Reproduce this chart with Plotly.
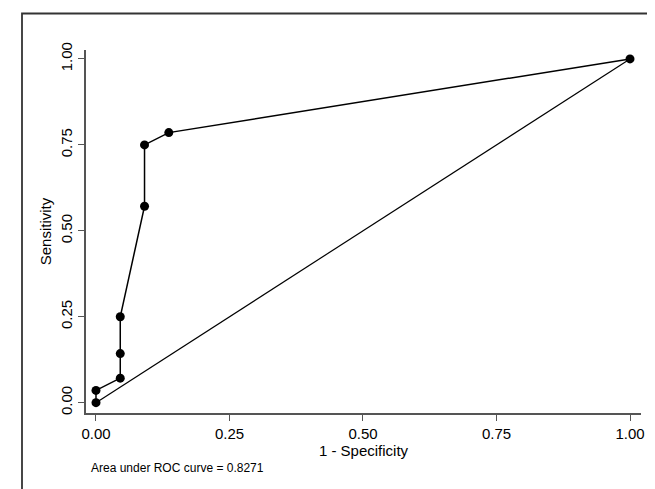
import plotly.graph_objects as go

# ROC curve data (1 - specificity, sensitivity)
fpr = [0.0, 0.0, 1/22, 1/22, 1/22, 2/22, 2/22, 3/22, 1.0]
tpr = [0.0, 1/28, 2/28, 4/28, 7/28, 16/28, 21/28, 22/28, 1.0]
ref_x = [0.0, 1.0]
ref_y = [0.0, 1.0]
tick_vals = [0.0, 0.25, 0.5, 0.75, 1.0]
tick_text = ["0.00", "0.25", "0.50", "0.75", "1.00"]
auc_label = "Area under ROC curve = 0.8271"

W, H = 655, 489
L, R, T, B = 78, 22, 42, 84
pw, ph = W - L - R, H - T - B

def px_x(p):
    return (p - L) / pw

def px_y(p):
    return (H - B - p) / ph

fig = go.Figure()
fig.add_trace(go.Scatter(x=ref_x, y=ref_y, mode="lines",
                         line=dict(color="black", width=1.2),
                         showlegend=False, hoverinfo="skip"))
fig.add_trace(go.Scatter(x=fpr, y=tpr, mode="lines+markers",
                         line=dict(color="black", width=1.5),
                         marker=dict(color="black", size=9),
                         showlegend=False))

font = "Liberation Sans, Arial, sans-serif"
axis_common = dict(
    showgrid=False, zeroline=False, showline=True,
    linecolor="#555555", linewidth=1.5,
    ticks="outside", ticklen=6, tickcolor="#555555", tickwidth=1.2,
    tickvals=tick_vals, ticktext=tick_text,
    tickfont=dict(family=font, size=15, color="black"),
    mirror=False,
)
fig.update_xaxes(range=[-0.0187, 1.0206],
                 title=dict(text="1 - Specificity", font=dict(family=font, size=15, color="black"), standoff=3),
                 **axis_common)
fig.update_yaxes(range=[-0.030, 1.026], tickangle=-90,
                 title=dict(text="Sensitivity", font=dict(family=font, size=15, color="black"), standoff=3),
                 **axis_common)

fig.add_annotation(text=auc_label, xref="paper", yref="paper",
                   x=px_x(81), y=px_y(460), xanchor="left", yanchor="middle",
                   showarrow=False, font=dict(family=font, size=12, color="black"))

fig.add_shape(type="rect", xref="paper", yref="paper",
              x0=px_x(14), x1=px_x(700), y0=px_y(540), y1=px_y(5.5),
              line=dict(color="#333333", width=1.8), fillcolor="rgba(0,0,0,0)")

fig.update_layout(width=W, height=H, margin=dict(l=L, r=R, t=T, b=B, autoexpand=False),
                  paper_bgcolor="white", plot_bgcolor="white",
                  font=dict(family=font, color="black"))

fig.write_html("out.html")
